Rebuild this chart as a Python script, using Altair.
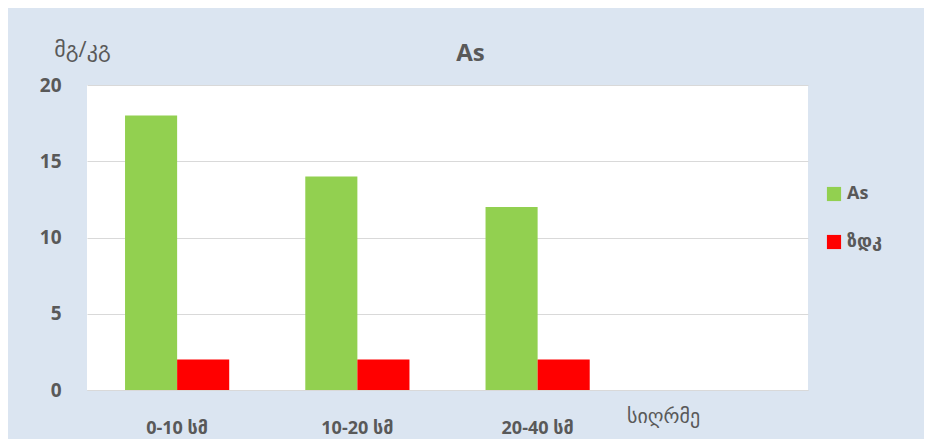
import altair as alt
import pandas as pd

categories = ["0-10 სმ", "10-20 სმ", "20-40 სმ", " "]
series_names = ["As", "ზდკ"]
as_values = [18, 14, 12]
zdk_values = [2, 2, 2]
y_ticks = [0, 5, 10, 15, 20]
colors = ["#92d050", "#ff0000"]

rows = []
for c, a, z in zip(categories[:3], as_values, zdk_values):
    rows.append({"cat": c, "series": series_names[0], "value": a})
    rows.append({"cat": c, "series": series_names[1], "value": z})
df = pd.DataFrame(rows)

FONT = "Open Sans, DejaVu Sans"
GREY = "#595959"

chart = alt.Chart(df).mark_bar().encode(
    x=alt.X("cat:N", sort=categories,
            scale=alt.Scale(domain=categories, paddingInner=0.422, paddingOuter=0.211),
            axis=alt.Axis(title="სიღრმე", titleAngle=0, titleX=576, titleY=26,
                          titleAlign="center", titleBaseline="middle",
                          titleFontSize=20, titleFontWeight="normal", titleColor=GREY,
                          titleFont=FONT,
                          labelAngle=0, labelPadding=29, labelFontSize=18,
                          labelFontWeight="bold", labelColor=GREY, labelFont=FONT,
                          ticks=False, domain=True, domainColor="#d9d9d9", grid=False)),
    xOffset=alt.XOffset("series:N", sort=series_names,
                        scale=alt.Scale(domain=series_names, paddingInner=0, paddingOuter=0)),
    y=alt.Y("value:Q", scale=alt.Scale(domain=[0, 20], nice=False),
            axis=alt.Axis(values=y_ticks, title="მგ/კგ", titleAngle=0,
                          titleX=-5, titleY=-36, titleAlign="center",
                          titleBaseline="middle", titleFontSize=22,
                          titleFontWeight="normal", titleColor=GREY, titleFont=FONT,
                          labelPadding=26, labelFontSize=19, labelFontWeight="bold",
                          labelColor=GREY, labelFont=FONT, ticks=False, domain=False,
                          gridColor="#d9d9d9", gridWidth=1)),
    color=alt.Color("series:N", sort=series_names,
                    scale=alt.Scale(domain=series_names, range=colors),
                    legend=alt.Legend(title=None, orient="none", legendX=738, legendY=100,
                                      symbolType="square", symbolSize=200,
                                      symbolStrokeWidth=0, rowPadding=30,
                                      labelFontSize=18, labelColor=GREY, labelFont=FONT,
                                      labelFontWeight="bold")),
).properties(
    width=721,
    height=305,
    title=alt.TitleParams(text="As", anchor="middle", dx=23, dy=50, offset=22,
                          fontSize=24, fontWeight="bold", color=GREY, font=FONT),
).configure(
    background="#dbe5f1",
    autosize=alt.AutoSizeParams(type="none"),
    padding={"left": 79, "top": 77, "right": 116, "bottom": 49},
).configure_view(fill="white", stroke=None)

chart.save("out.html", embed_options={"renderer": "svg", "actions": False})
